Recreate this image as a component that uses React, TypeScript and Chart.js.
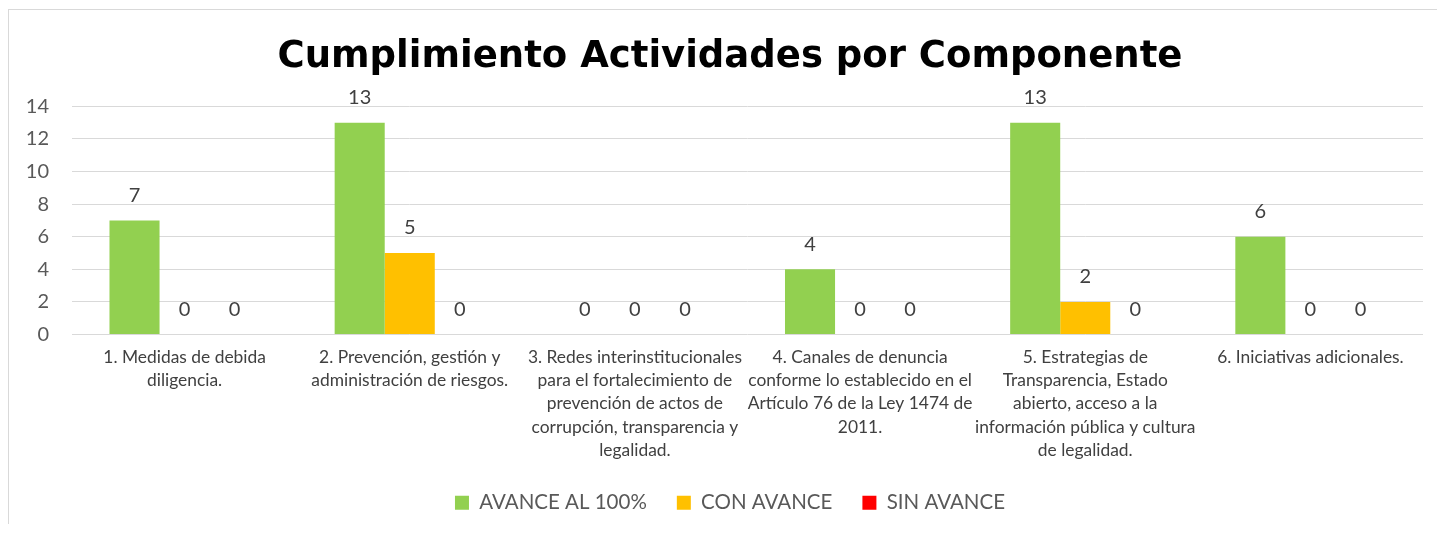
import { useEffect, useRef } from "react";
import { Chart, registerables } from "chart.js";

Chart.register(...registerables);

const chartTitle = "Cumplimiento Actividades por Componente";

const categories: string[][] = [
  ["1. Medidas de debida", "diligencia."],
  ["2. Prevención, gestión y", "administración de riesgos."],
  [
    "3. Redes interinstitucionales",
    "para el fortalecimiento de",
    "prevención de actos de",
    "corrupción, transparencia y",
    "legalidad.",
  ],
  [
    "4. Canales de denuncia",
    "conforme lo establecido en el",
    "Artículo 76 de la Ley 1474 de",
    "2011.",
  ],
  [
    "5. Estrategias de",
    "Transparencia, Estado",
    "abierto, acceso a la",
    "información pública y cultura",
    "de legalidad.",
  ],
  ["6. Iniciativas adicionales."],
];

const seriesNames = ["AVANCE AL 100%", "CON AVANCE", "SIN AVANCE"];
const avance100 = [7, 13, 0, 4, 13, 6];
const conAvance = [0, 5, 0, 0, 2, 0];
const sinAvance = [0, 0, 0, 0, 0, 0];
const seriesColors = ["#92D050", "#FFC000", "#FF0000"];

const yMin = 0;
const yMax = 14;
const yStep = 2;

const valueLabels = {
  id: "valueLabels",
  afterDatasetsDraw(chart: any) {
    const ctx = chart.ctx;
    ctx.save();
    ctx.font = "20px Lato";
    ctx.fillStyle = "#404040";
    ctx.textAlign = "center";
    ctx.textBaseline = "middle";
    chart.data.datasets.forEach((ds: any, i: number) => {
      const meta = chart.getDatasetMeta(i);
      meta.data.forEach((bar: any, j: number) => {
        ctx.fillText(String(ds.data[j]), bar.x, bar.y - 25);
      });
    });
    ctx.restore();
  },
};

export default function App() {
  const ref = useRef<HTMLCanvasElement | null>(null);

  useEffect(() => {
    if (!ref.current) return;
    const chart = new Chart(ref.current, {
      type: "bar",
      data: {
        labels: categories,
        datasets: [avance100, conAvance, sinAvance].map((d, i) => ({
          label: seriesNames[i],
          data: d,
          backgroundColor: seriesColors[i],
          borderWidth: 0,
          categoryPercentage: 0.667,
          barPercentage: 1,
        })),
      },
      options: {
        responsive: false,
        animation: false,
        devicePixelRatio: 1,
        layout: { padding: { left: 0, right: 22, top: 0, bottom: 1 } },
        plugins: {
          title: {
            display: true,
            text: chartTitle,
            color: "#000000",
            font: { family: "'DejaVu Sans'", size: 37, weight: "bold" },
            padding: { top: 25, bottom: 27 },
          },
          legend: {
            position: "bottom",
            labels: {
              boxWidth: 14,
              boxHeight: 14,
              padding: 30,
              color: "#595959",
              font: { family: "Lato", size: 20.5 },
            },
          },
          tooltip: { enabled: false },
        },
        scales: {
          x: {
            grid: { display: false, drawTicks: false },
            border: { display: false },
            ticks: {
              color: "#404040",
              font: { family: "Lato", size: 17.4, lineHeight: 1.34 },
              padding: 11,
              maxRotation: 0,
              minRotation: 0,
              autoSkip: false,
            },
            afterFit(scale: any) {
              scale.height = 128;
            },
          },
          y: {
            min: yMin,
            max: yMax,
            grid: { color: "#D9D9D9", lineWidth: 1, drawTicks: false },
            border: { display: false },
            ticks: {
              stepSize: yStep,
              color: "#595959",
              font: { family: "Lato", size: 20 },
              padding: 23,
            },
            afterFit(scale: any) {
              scale.width = 63;
            },
          },
          yRight: {
            position: "right",
            display: true,
            grid: { display: false, drawTicks: false },
            border: { display: false },
            ticks: { display: false },
            afterFit(scale: any) {
              scale.width = 28;
            },
          },
        },
      },
      plugins: [valueLabels],
    });
    return () => chart.destroy();
  }, []);

  return (
    <div
      style={{
        marginTop: 1,
        width: 1437,
        height: 514,
        overflow: "hidden",
        borderLeft: "1px solid #D9D9D9",
        borderTop: "1px solid #D9D9D9",
        background: "#FFFFFF",
      }}
    >
      <canvas ref={ref} width={1464} height={514} style={{ display: "block" }} />
    </div>
  );
}
